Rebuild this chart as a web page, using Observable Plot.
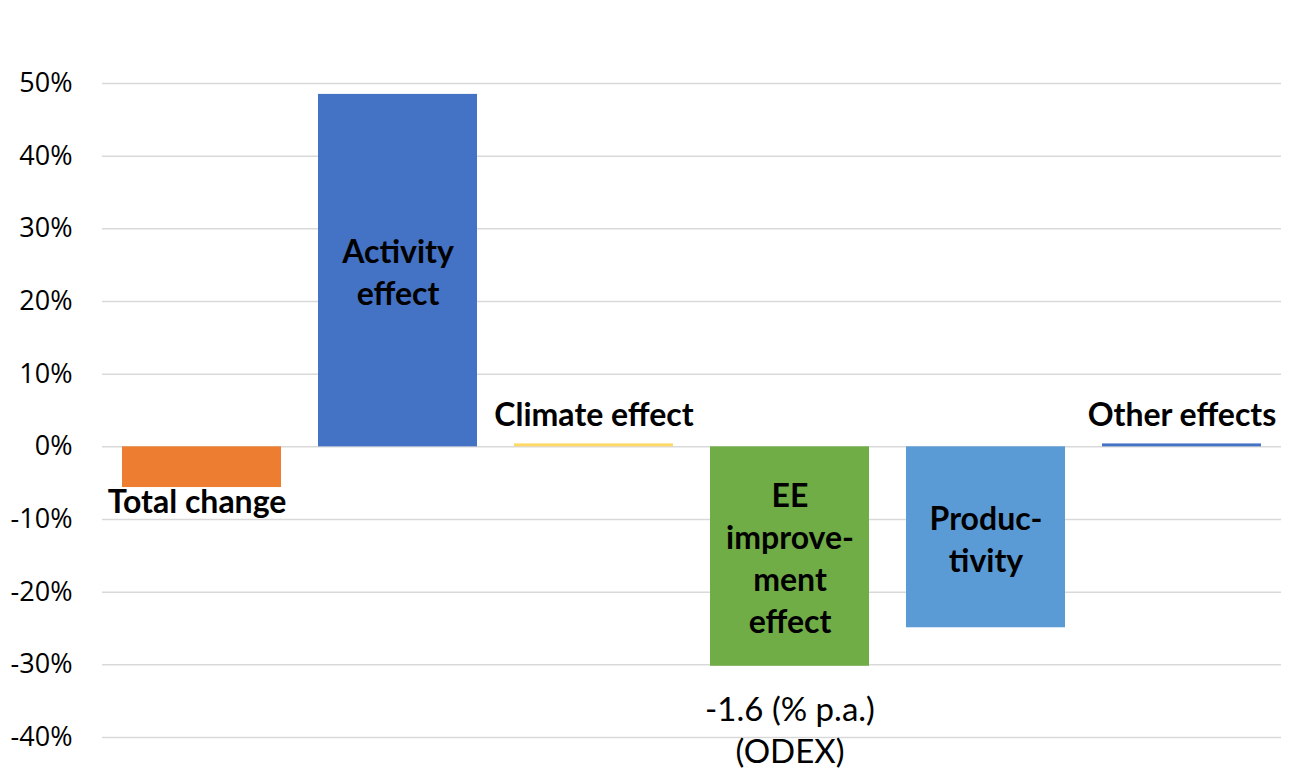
<!DOCTYPE html>
<html>
<head>
<meta charset="utf-8">
<script src="https://cdn.jsdelivr.net/npm/d3@7"></script>
<script src="https://cdn.jsdelivr.net/npm/@observablehq/plot@0.6"></script>
<style>
  html, body { margin: 0; padding: 0; background: #fff; }
  #chart svg { display: block; }
</style>
</head>
<body>
<div id="chart"></div>
<script>
const categories = ["Total change", "Activity effect", "Climate effect", "EE improvement effect", "Productivity", "Other effects"];
const values = [-5.6, 48.5, 0.4, -30.2, -24.9, 0.4];
const barColors = ["#ED7D31", "#4472C4", "#FFD966", "#70AD47", "#5B9BD5", "#4472C4"];
const barLabels = ["Total change", "Activity\neffect", "Climate effect", "EE\nimprove-\nment\neffect", "Produc-\ntivity", "Other effects"];
const yTicks = [-40, -30, -20, -10, 0, 10, 20, 30, 40, 50];
const noteText = "-1.6 (% p.a.)\n(ODEX)";

const data = categories.map((c, i) => ({category: c, value: values[i], color: barColors[i], label: barLabels[i]}));

const inside = data.filter(d => Math.abs(d.value) > 10);
const below = data.filter(d => Math.abs(d.value) <= 10 && d.value < 0);
const above = data.filter(d => Math.abs(d.value) <= 10 && d.value >= 0);

const labelFont = {fontFamily: "Lato, sans-serif", fontWeight: "bold", fontSize: 32, fill: "#000"};

const chart = Plot.plot({
  width: 1294,
  height: 771,
  marginLeft: 102,
  marginRight: 13,
  marginTop: 83,
  marginBottom: 34,
  style: {fontFamily: "'Open Sans', sans-serif", background: "#fff", overflow: "visible"},
  x: {domain: categories, axis: null, paddingInner: 0.19, paddingOuter: 0.1},
  y: {domain: [-40, 50], ticks: yTicks, label: null, tickFormat: d => d + "%", tickSize: 0, tickPadding: 30},
  color: {type: "identity"},
  marks: [
    Plot.ruleY(yTicks, {stroke: "#D9D9D9", strokeWidth: 1.5}),
    Plot.axisY({ticks: yTicks, tickFormat: d => d + "%", tickSize: 0, tickPadding: 30, fontSize: 27, fill: "#000", label: null}),
    Plot.barY(data, {x: "category", y: "value", fill: "color"}),
    Plot.text(inside, {x: "category", y: d => d.value / 2, text: "label", lineHeight: 1.31, ...labelFont}),
    Plot.text(below, {x: "category", y: "value", text: "label", dy: 15, dx: -5, ...labelFont}),
    Plot.text(above, {x: "category", y: 0, text: "label", dy: -31, ...labelFont}),
    Plot.text([data[3]], {x: "category", y: "value", text: () => noteText, dy: 62, fontFamily: "Lato, sans-serif", fontSize: 33, lineHeight: 1.27, fill: "#000"})
  ]
});
document.getElementById("chart").appendChild(chart);
</script>
</body>
</html>
